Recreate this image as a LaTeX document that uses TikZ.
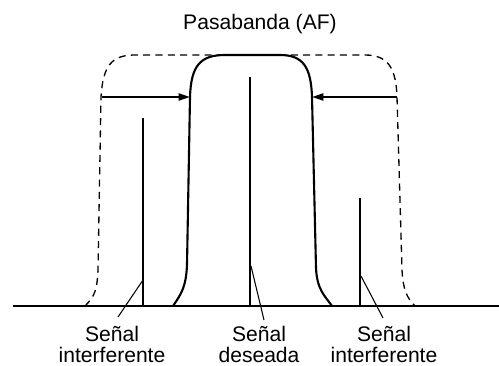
\documentclass[tikz,border=0pt]{standalone}
\usepackage{fontspec}
\setmainfont{Liberation Sans}
\usetikzlibrary{arrows.meta, positioning}

\begin{document}
\begin{tikzpicture}[
  x=0.02cm, y=-0.02cm,
  solid line/.style={line width=1.2pt, line join=round},
  dash line/.style={line width=0.75pt, dash pattern=on 4pt off 3pt},
  leader/.style={line width=0.6pt},
  reach/.style={line width=1.2pt, -{Triangle[length=6.5pt, width=4pt]}},
  lbl/.style={font=\fontsize{12}{12}\selectfont, align=center, inner sep=0pt},
]
  \useasboundingbox (0,0) rectangle (499,365);

  % Title
  \node[lbl, anchor=base] (title) at (260,30) {Pasabanda (AF)};

  % Wide passband (dashed)
  \draw[dash line] (85,306) .. controls (95,296) and (97,290) .. (98,270)
    -- (101,97) .. controls (103,65) and (112,55) .. (135,55)
    -- (365,55) .. controls (388,55) and (396,68) .. (397,97)
    -- (402,270) .. controls (403,290) and (407,298) .. (415,306);

  % Narrow passband (solid)
  \draw[solid line] (173,306) .. controls (182,293) and (186,286) .. (187,265)
    -- (190,97) .. controls (191,66) and (200,55) .. (225,55)
    -- (280,55) .. controls (303,55) and (311,67) .. (312,97)
    -- (316,268) .. controls (317,290) and (325,296) .. (332,306);

  % Axis
  \coordinate (axisL) at (13,306);
  \coordinate (axisR) at (499,306);
  \draw[solid line] (axisL) -- (axisR);

  % Arrows: narrowing of the passband
  \coordinate (wideL) at (102,97);
  \coordinate (narrowL) at (190,97);
  \coordinate (wideR) at (397,97);
  \coordinate (narrowR) at (312,97);
  \draw[reach] (wideL) -- (narrowL);
  \draw[reach] (wideR) -- (narrowR);

  % Signals
  \coordinate (sigL) at (143,118);
  \coordinate (sigC) at (250,77);
  \coordinate (sigR) at (360,198);
  \draw[solid line] (sigL) -- (sigL |- axisL);
  \draw[solid line] (sigC) -- (sigC |- axisL);
  \draw[solid line] (sigR) -- (sigR |- axisL);

  % Labels
  \node[lbl, anchor=north] (lblL) at (112,326) {Señal\\interferente};
  \node[lbl, anchor=north] (lblC) at (259,326) {Señal\\deseada};
  \node[lbl, anchor=north] (lblR) at (384,326) {Señal\\interferente};

  % Leader lines
  \coordinate (hitL) at (143,280);
  \coordinate (hitC) at (251,266);
  \coordinate (hitR) at (361,276);
  \coordinate (endL) at (118,317);
  \coordinate (endC) at (264,320);
  \coordinate (endR) at (383,318);
  \draw[leader] (hitL) -- (endL);
  \draw[leader] (hitC) -- (endC);
  \draw[leader] (hitR) -- (endR);

\end{tikzpicture}
\end{document}
